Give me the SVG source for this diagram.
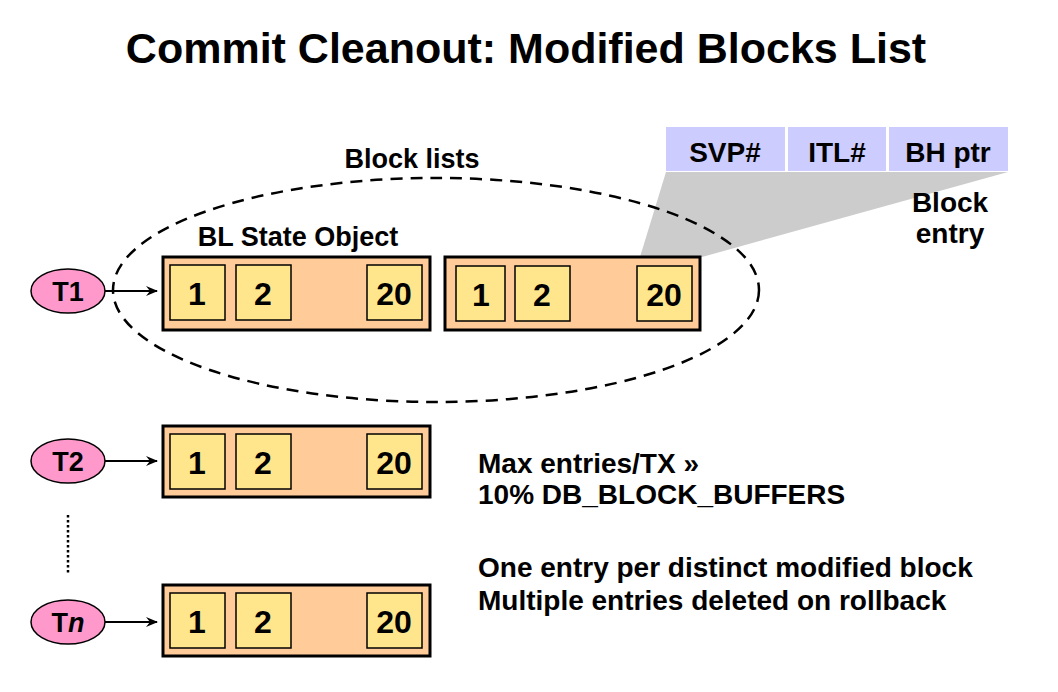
<svg xmlns="http://www.w3.org/2000/svg" width="1058" height="692" viewBox="0 0 1058 692">
<style>
text{font-family:"Liberation Sans",Arial,sans-serif;font-weight:bold;fill:#000}
.outer{fill:#FFCC99;stroke:#000;stroke-width:3}
.cell{fill:#FFE68C;stroke:#000;stroke-width:1.5}
.num{font-size:32px;text-anchor:middle}
.tx{fill:#FF99CC;stroke:#000;stroke-width:1.5}
.txl{font-size:27px;text-anchor:middle}
.lab{font-size:28px}
.hdr{fill:#CCCCFF}
.conn{stroke:#000;stroke-width:2;fill:none}
</style>
<defs>
<marker id="ah" markerWidth="12" markerHeight="10" refX="11" refY="5" orient="auto" markerUnits="userSpaceOnUse">
<path d="M0,0 L12,5 L0,10 L4,5 Z" fill="#000"/>
</marker>
</defs>
<rect width="1058" height="692" fill="#fff"/>
<text x="526" y="63" font-size="43" text-anchor="middle">Commit Cleanout: Modified Blocks List</text>

<g id="block-entry">
<polygon points="666,172 1008,172 702,257 640,257" fill="#CCCCCC"/>
<rect class="hdr" x="666" y="127" width="119" height="44"/>
<rect class="hdr" x="788" y="127" width="98" height="44"/>
<rect class="hdr" x="889" y="127" width="119" height="44"/>
<text class="lab" x="725" y="162" text-anchor="middle">SVP#</text>
<text class="lab" x="837" y="162" text-anchor="middle">ITL#</text>
<text class="lab" x="948" y="162" text-anchor="middle">BH ptr</text>
<text class="lab" x="950" y="212" text-anchor="middle">Block</text>
<text class="lab" x="950" y="243" text-anchor="middle">entry</text>
</g>

<g id="block-lists">
<ellipse cx="436" cy="290" rx="323" ry="112" fill="none" stroke="#000" stroke-width="2.5" stroke-dasharray="12,8"/>
<text x="412" y="168" font-size="27" text-anchor="middle">Block lists</text>
<text x="298" y="246" font-size="27" text-anchor="middle">BL State Object</text>
</g>

<g id="bl1">
<rect class="outer" x="163" y="257" width="267" height="73"/>
<rect class="cell" x="170" y="265" width="55" height="55"/>
<rect class="cell" x="236" y="265" width="55" height="55"/>
<rect class="cell" x="367" y="265" width="55" height="55"/>
<text class="num" x="197" y="305">1</text>
<text class="num" x="263" y="305">2</text>
<text class="num" x="394" y="305">20</text>
</g>

<g id="bl2">
<rect class="outer" x="445" y="257" width="255" height="73"/>
<rect class="cell" x="456" y="266" width="49" height="55"/>
<rect class="cell" x="515" y="266" width="55" height="55"/>
<rect class="cell" x="637" y="266" width="55" height="55"/>
<text class="num" x="481" y="306">1</text>
<text class="num" x="542" y="306">2</text>
<text class="num" x="664" y="306">20</text>
</g>

<g id="bl-t2">
<rect class="outer" x="163" y="426" width="267" height="71"/>
<rect class="cell" x="170" y="434" width="55" height="55"/>
<rect class="cell" x="236" y="434" width="55" height="55"/>
<rect class="cell" x="367" y="434" width="55" height="55"/>
<text class="num" x="197" y="474">1</text>
<text class="num" x="263" y="474">2</text>
<text class="num" x="394" y="474">20</text>
</g>

<g id="bl-tn">
<rect class="outer" x="163" y="585" width="267" height="71"/>
<rect class="cell" x="170" y="593" width="55" height="55"/>
<rect class="cell" x="236" y="593" width="55" height="55"/>
<rect class="cell" x="367" y="593" width="55" height="55"/>
<text class="num" x="197" y="633">1</text>
<text class="num" x="263" y="633">2</text>
<text class="num" x="394" y="633">20</text>
</g>

<g id="t1">
<ellipse class="tx" cx="68" cy="291" rx="37" ry="22"/>
<text class="txl" x="68" y="301">T1</text>
</g>
<g id="t2">
<ellipse class="tx" cx="68" cy="461" rx="37" ry="22"/>
<text class="txl" x="68" y="471">T2</text>
</g>
<g id="tn">
<ellipse class="tx" cx="68" cy="622" rx="37" ry="22"/>
<text class="txl" x="68" y="632">T<tspan font-style="italic">n</tspan></text>
</g>

<g id="connectors">
<line class="conn" x1="105" y1="291" x2="157" y2="291" marker-end="url(#ah)"/>
<line class="conn" x1="105" y1="461" x2="157" y2="461" marker-end="url(#ah)"/>
<line class="conn" x1="105" y1="622" x2="157" y2="622" marker-end="url(#ah)"/>
<line x1="68" y1="515" x2="68" y2="573" stroke="#000" stroke-width="2.5" stroke-dasharray="2.5,2.5"/>
</g>

<g id="notes">
<text class="lab" x="478" y="473">Max entries/TX »</text>
<text class="lab" x="478" y="504">10% DB_BLOCK_BUFFERS</text>
<text class="lab" x="478" y="577">One entry per distinct modified block</text>
<text class="lab" x="478" y="610">Multiple entries deleted on rollback</text>
</g>
</svg>
